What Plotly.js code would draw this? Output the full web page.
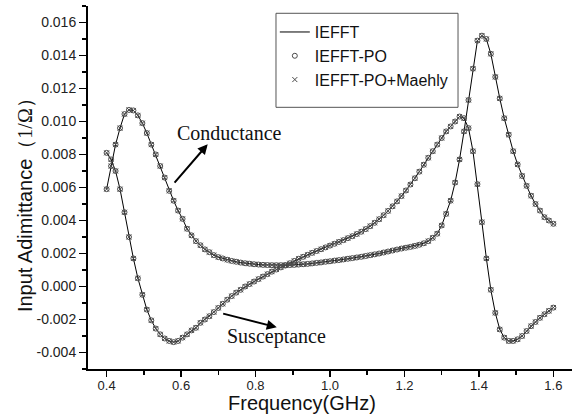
<!DOCTYPE html>
<html>
<head>
<meta charset="utf-8">
<script src="https://cdn.plot.ly/plotly-3.0.1.min.js"></script>
<style>html,body{margin:0;padding:0;background:#fff;}#chart{width:573px;height:414px;}</style>
</head>
<body>
<div id="chart"></div>
<script>
// Frequency points (GHz)
var freq = [
0.400,0.412,0.424,0.436,0.448,0.460,0.472,0.484,0.496,0.508,
0.520,0.532,0.544,0.556,0.568,0.580,0.592,0.604,0.616,0.628,
0.640,0.652,0.664,0.676,0.688,0.700,0.712,0.724,0.736,0.748,
0.760,0.772,0.784,0.796,0.808,0.820,0.832,0.844,0.856,0.868,
0.880,0.892,0.904,0.916,0.928,0.940,0.952,0.964,0.976,0.988,
1.000,1.012,1.024,1.036,1.048,1.060,1.072,1.084,1.096,1.108,
1.120,1.132,1.144,1.156,1.168,1.180,1.192,1.204,1.216,1.228,
1.240,1.252,1.264,1.276,1.288,1.300,1.312,1.324,1.336,1.348,
1.360,1.372,1.384,1.396,1.408,1.420,1.432,1.444,1.456,1.468,
1.480,1.492,1.504,1.516,1.528,1.540,1.552,1.564,1.576,1.588,
1.600];

// Conductance (real part), 1/Ohm
var conductance = [
0.0059,0.0073,0.0086,0.0096,0.01045,0.0107,0.01067,0.01037,0.0099,0.0093,
0.0086,0.0080,0.0073,0.0066,0.0058,0.0052,0.0046,0.0041,0.0035,0.0031,
0.00275,0.0025,0.00225,0.00208,0.0019,0.00178,0.0017,0.00162,0.00155,0.0015,
0.00145,0.00141,0.00138,0.00135,0.00133,0.00131,0.0013,0.00129,0.00129,0.00129,
0.0013,0.0013,0.00131,0.00133,0.00135,0.00137,0.0014,0.00143,0.00146,0.0015,
0.00153,0.00157,0.0016,0.00164,0.00168,0.00172,0.00176,0.0018,0.00185,0.0019,
0.00195,0.002,0.00206,0.00212,0.00218,0.00224,0.0023,0.00235,0.0024,0.00246,
0.00253,0.00262,0.00275,0.00295,0.0032,0.0037,0.0044,0.0052,0.0063,0.0077,
0.0094,0.0113,0.0132,0.0149,0.0152,0.0150,0.0141,0.0127,0.0114,0.0102,
0.0092,0.0082,0.0074,0.0067,0.0061,0.0055,0.0050,0.0046,0.0042,0.0040,
0.0038];

// Susceptance (imaginary part), 1/Ohm
var susceptance = [
0.0081,0.0077,0.0070,0.0059,0.0045,0.0030,0.0017,0.0005,-0.0005,-0.0014,
-0.00205,-0.00255,-0.0029,-0.00315,-0.0033,-0.00337,-0.0033,-0.0031,-0.0029,-0.00266,
-0.0025,-0.0022,-0.0020,-0.0018,-0.00155,-0.0013,-0.00105,-0.0008,-0.00058,-0.00037,
-0.0002,0.0000,0.00015,0.0003,0.00045,0.0006,0.00075,0.0009,0.00103,0.00116,
0.00127,0.00141,0.00155,0.00168,0.0018,0.00192,0.00204,0.00215,0.00226,0.00237,
0.00248,0.00259,0.0027,0.00281,0.00293,0.00305,0.00318,0.00332,0.00348,0.00366,
0.00386,0.00408,0.00432,0.00458,0.00486,0.00516,0.00548,0.00582,0.00618,0.00656,
0.00696,0.00738,0.0078,0.0082,0.0086,0.0090,0.0094,0.0097,0.0100,0.0103,
0.0102,0.0096,0.0082,0.0062,0.0039,0.0017,-0.0002,-0.0016,-0.0026,-0.0031,
-0.0033,-0.0033,-0.0032,-0.0030,-0.0027,-0.0024,-0.00215,-0.0019,-0.00168,-0.00148,
-0.00128];

var seriesNames = ['IEFFT', 'IEFFT-PO', 'IEFFT-PO+Maehly'];

// Y tick values and labels (hyphen minus as in the original)
var yTickVals = [-0.004, -0.002, 0.000, 0.002, 0.004, 0.006, 0.008, 0.010, 0.012, 0.014, 0.016];
var yTickText = ['-0.004', '-0.002', '0.000', '0.002', '0.004', '0.006', '0.008', '0.010', '0.012', '0.014', '0.016'];

var SANS = 'Arial, "Liberation Sans", sans-serif';
var SERIF = '"Times New Roman", "Liberation Serif", serif';

function lineTrace(y, show) {
  return {x: freq, y: y, type: 'scatter', mode: 'lines', name: seriesNames[0],
    legendgroup: 'a', showlegend: show, line: {color: '#000', width: 1}};
}
function markTrace(y, symbol, name, grp, show) {
  return {x: freq, y: y, type: 'scatter', mode: 'markers', name: name,
    legendgroup: grp, showlegend: show,
    marker: {symbol: symbol, size: 5, color: '#4a4a4a', line: {width: 1, color: '#4a4a4a'}}};
}

var data = [
  lineTrace(conductance, true),
  lineTrace(susceptance, false),
  markTrace(conductance, 'circle-open', seriesNames[1], 'b', true),
  markTrace(susceptance, 'circle-open', seriesNames[1], 'b', false),
  markTrace(conductance, 'x-thin-open', seriesNames[2], 'c', true),
  markTrace(susceptance, 'x-thin-open', seriesNames[2], 'c', false)
];

var layout = {
  width: 573, height: 414,
  margin: {l: 88, r: 1, t: 6, b: 45, pad: 0},
  paper_bgcolor: '#fff', plot_bgcolor: '#fff',
  font: {family: SANS, color: '#111'},
  showlegend: true,
  legend: {x: 0.386, y: 0.975, xanchor: 'left', yanchor: 'top',
    bgcolor: 'rgba(0,0,0,0)', borderwidth: 0, tracegroupgap: 0,
    font: {family: SANS, size: 16, color: '#111'}},
  xaxis: {
    range: [0.35, 1.65], tickmode: 'linear', tick0: 0.4, dtick: 0.2, tickformat: '.1f',
    ticks: 'outside', ticklen: 6, tickwidth: 1.5, tickcolor: '#000', ticklabelstandoff: -3,
    showline: true, linecolor: '#000', linewidth: 2, showgrid: false, zeroline: false,
    tickfont: {family: SANS, size: 13, color: '#222'},
    minor: {tickmode: 'linear', tick0: 0.4, dtick: 0.1, ticks: 'outside', ticklen: 4, tickwidth: 1.5, tickcolor: '#000', showgrid: false}
  },
  yaxis: {
    range: [-0.005, 0.017], tickmode: 'array', tickvals: yTickVals, ticktext: yTickText,
    ticks: 'outside', ticklen: 7, tickwidth: 1.5, tickcolor: '#000',
    showline: true, linecolor: '#000', linewidth: 2, showgrid: false, zeroline: false,
    tickfont: {family: SANS, size: 14, color: '#222'},
    minor: {tickmode: 'linear', tick0: 0, dtick: 0.001, ticks: 'outside', ticklen: 4, tickwidth: 1.5, tickcolor: '#000', showgrid: false}
  },
  shapes: [
    {type: 'rect', xref: 'paper', yref: 'paper', x0: 0.3884, x1: 0.7645, y0: 0.7209, y1: 0.9799,
     line: {color: '#555', width: 1}, fillcolor: 'rgba(0,0,0,0)', layer: 'above'}
  ],
  annotations: [
    {xref: 'paper', yref: 'paper', x: 0.443, y: -0.095, xanchor: 'center', yanchor: 'middle',
     text: 'Frequency(GHz)', showarrow: false, font: {family: SANS, size: 20, color: '#111'}},
    {xref: 'paper', yref: 'paper', x: -0.130, y: 0.4656, xanchor: 'center', yanchor: 'middle',
     textangle: -90, showarrow: false,
     text: 'Input Adimittance<span style="font-family:Liberation Serif, serif">（1/Ω）</span>',
     font: {family: SANS, size: 20, color: '#111'}},
    {xref: 'x', yref: 'y', x: 0.5837, y: 0.0093, xanchor: 'left', yanchor: 'middle',
     text: 'Conductance', showarrow: false, font: {family: SERIF, size: 20, color: '#111'}},
    {xref: 'x', yref: 'y', x: 0.718, y: -0.00300, xanchor: 'left', yanchor: 'middle',
     text: 'Susceptance', showarrow: false, font: {family: SERIF, size: 20, color: '#111'}},
    {xref: 'x', yref: 'y', axref: 'x', ayref: 'y', x: 0.6715, y: 0.00862, ax: 0.579, ay: 0.00621,
     text: '', showarrow: true, arrowhead: 2, arrowsize: 1, arrowwidth: 2, arrowcolor: '#000', standoff: 0, startstandoff: 0},
    {xref: 'x', yref: 'y', axref: 'x', ayref: 'y', x: 0.857, y: -0.00247, ax: 0.709, ay: -0.00162,
     text: '', showarrow: true, arrowhead: 2, arrowsize: 1, arrowwidth: 2, arrowcolor: '#000', standoff: 0, startstandoff: 0}
  ]
};

Plotly.newPlot('chart', data, layout, {displayModeBar: false, staticPlot: true});
</script>
</body>
</html>
